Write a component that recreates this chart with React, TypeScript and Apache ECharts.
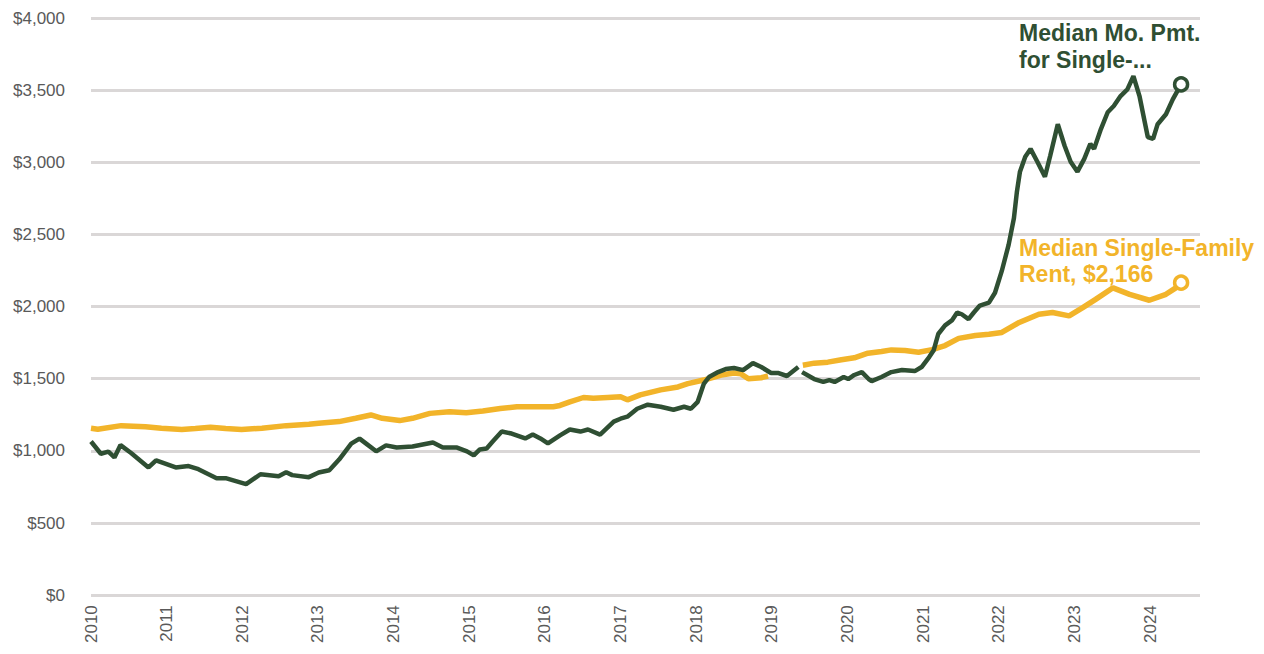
import React, { useEffect, useRef } from "react";
import * as echarts from "echarts";

// [year, monthly payment $] — median monthly payment for single-family home
const paymentSeries: (number | null)[][] = [
  [2010.0, 1065], [2010.13, 980], [2010.23, 995], [2010.31, 955], [2010.39, 1040],
  [2010.53, 985], [2010.76, 885], [2010.86, 935], [2011.12, 885], [2011.29, 895],
  [2011.42, 873], [2011.66, 811], [2011.78, 811], [2012.05, 770], [2012.24, 838],
  [2012.48, 825], [2012.58, 852], [2012.66, 832], [2012.88, 818], [2013.01, 850],
  [2013.15, 866], [2013.28, 940], [2013.44, 1050], [2013.55, 1085], [2013.65, 1045],
  [2013.77, 997], [2013.9, 1038], [2014.04, 1024], [2014.25, 1030], [2014.52, 1058],
  [2014.65, 1024], [2014.83, 1024], [2014.97, 997], [2015.06, 969], [2015.14, 1010],
  [2015.23, 1017], [2015.31, 1065], [2015.43, 1134], [2015.56, 1120], [2015.74, 1086],
  [2015.84, 1113], [2015.94, 1086], [2016.04, 1052], [2016.2, 1107], [2016.33, 1148],
  [2016.47, 1134], [2016.57, 1148], [2016.73, 1113], [2016.91, 1203], [2017.0, 1223],
  [2017.09, 1237], [2017.22, 1292], [2017.36, 1320], [2017.53, 1306], [2017.7, 1285],
  [2017.84, 1306], [2017.93, 1292], [2018.02, 1340], [2018.1, 1464], [2018.17, 1512],
  [2018.29, 1546], [2018.39, 1567], [2018.5, 1574], [2018.62, 1560], [2018.75, 1608],
  [2018.86, 1581], [2018.99, 1540], [2019.08, 1540], [2019.2, 1519], [2019.35, 1581],
  [2019.38, null],
  [2019.4, 1546], [2019.56, 1498], [2019.68, 1478], [2019.76, 1491], [2019.83, 1478],
  [2019.95, 1512], [2020.01, 1498], [2020.09, 1526], [2020.19, 1546], [2020.28, 1498],
  [2020.32, 1484], [2020.45, 1512], [2020.58, 1546], [2020.72, 1560], [2020.89, 1553],
  [2020.98, 1581], [2021.08, 1650], [2021.14, 1698], [2021.2, 1810], [2021.29, 1870],
  [2021.38, 1904], [2021.45, 1959], [2021.51, 1947], [2021.6, 1913], [2021.67, 1959],
  [2021.75, 2007], [2021.87, 2027], [2021.95, 2096], [2022.04, 2247], [2022.13, 2428],
  [2022.2, 2612], [2022.24, 2797], [2022.28, 2935], [2022.35, 3038], [2022.42, 3093],
  [2022.51, 3004], [2022.61, 2900], [2022.68, 3045], [2022.78, 3264], [2022.87, 3115],
  [2022.95, 3004], [2023.04, 2935], [2023.13, 3024], [2023.21, 3127], [2023.26, 3093],
  [2023.35, 3230], [2023.44, 3347], [2023.52, 3390], [2023.61, 3459], [2023.7, 3505],
  [2023.78, 3597], [2023.86, 3459], [2023.93, 3278], [2023.97, 3175], [2024.04, 3162],
  [2024.1, 3264], [2024.21, 3333], [2024.3, 3436], [2024.41, 3540],
];

// [year, rent $] — median single-family rent
const rentSeries: (number | null)[][] = [
  [2010.0, 1157], [2010.09, 1150], [2010.4, 1175], [2010.72, 1168], [2010.93, 1157],
  [2011.2, 1148], [2011.38, 1155], [2011.58, 1164], [2011.78, 1155], [2011.99, 1148],
  [2012.26, 1157], [2012.58, 1175], [2012.88, 1185], [2013.01, 1191], [2013.28, 1203],
  [2013.5, 1226], [2013.7, 1249], [2013.85, 1226], [2014.08, 1210], [2014.25, 1226],
  [2014.48, 1260], [2014.74, 1272], [2014.96, 1265], [2015.18, 1276], [2015.41, 1294],
  [2015.63, 1306], [2015.84, 1306], [2016.11, 1306], [2016.2, 1315], [2016.33, 1340],
  [2016.51, 1370], [2016.64, 1364], [2016.83, 1370], [2017.0, 1375], [2017.09, 1354],
  [2017.26, 1388], [2017.53, 1423], [2017.76, 1443], [2017.89, 1466], [2018.1, 1491],
  [2018.33, 1526], [2018.5, 1540], [2018.59, 1535], [2018.69, 1500], [2018.86, 1507],
  [2018.95, 1519],
  [2019.2, null],
  [2019.41, 1594], [2019.56, 1608], [2019.74, 1615], [2019.92, 1631], [2020.09, 1645],
  [2020.27, 1677], [2020.45, 1689], [2020.58, 1700], [2020.76, 1696], [2020.94, 1684],
  [2021.12, 1702], [2021.29, 1730], [2021.47, 1780], [2021.69, 1800], [2021.87, 1808],
  [2022.04, 1821], [2022.27, 1890], [2022.53, 1947], [2022.71, 1959], [2022.93, 1936],
  [2023.11, 1993], [2023.28, 2050], [2023.51, 2130], [2023.73, 2085], [2023.99, 2044],
  [2024.21, 2085], [2024.34, 2130], [2024.41, 2166],
];

const paymentLabel = ["Median Mo. Pmt.", "for Single-..."];
const rentLabel = ["Median Single-Family", "Rent, $2,166"];

const GREEN = "#2f4f33";
const GOLD = "#f2b42a";

export default function App() {
  const ref = useRef<HTMLDivElement>(null);
  useEffect(() => {
    if (!ref.current) return;
    const chart = echarts.init(ref.current, undefined, { renderer: "svg" });
    const lastPay = paymentSeries[paymentSeries.length - 1];
    const lastRent = rentSeries[rentSeries.length - 1];
    chart.setOption({
      animation: false,
      backgroundColor: "#ffffff",
      grid: { left: 83, right: 56, top: 10, bottom: 45, containLabel: false },
      xAxis: {
        type: "value",
        min: 2010,
        max: 2024.66,
        interval: 1,
        axisLine: { show: false },
        axisTick: { show: false },
        splitLine: { show: false },
        axisLabel: {
          rotate: 90,
          margin: 10,
          color: "#595959",
          fontSize: 17,
          fontFamily: "Liberation Sans, Arial, sans-serif",
          formatter: (v: number) => (v <= 2024 ? String(v) : ""),
        },
      },
      yAxis: {
        type: "value",
        min: 0,
        max: 4000,
        interval: 500,
        axisLine: { show: false },
        axisTick: { show: false },
        splitLine: { lineStyle: { color: "#dad7d7", width: 3 } },
        axisLabel: {
          margin: 26,
          color: "#595959",
          fontSize: 17,
          fontFamily: "Liberation Sans, Arial, sans-serif",
          formatter: (v: number) => "$" + v.toLocaleString("en-US"),
        },
      },
      series: [
        {
          type: "line",
          name: "Median Single-Family Rent",
          data: rentSeries,
          showSymbol: false,
          connectNulls: false,
          lineStyle: { color: GOLD, width: 5.5 },
          z: 2,
        },
        {
          type: "line",
          name: "Median Mo. Pmt. for Single-Family",
          data: paymentSeries,
          showSymbol: false,
          connectNulls: false,
          lineStyle: { color: GREEN, width: 4.5 },
          z: 3,
        },
        {
          type: "scatter",
          data: [
            { value: lastRent, itemStyle: { borderColor: GOLD } },
            { value: lastPay, itemStyle: { borderColor: GREEN } },
          ],
          symbol: "circle",
          symbolSize: 13,
          itemStyle: { color: "#ffffff", borderWidth: 3.5, opacity: 1 },
          z: 4,
        },
      ],
      graphic: [
        {
          type: "text",
          left: 1011,
          top: 11,
          style: {
            text: paymentLabel.join("\n"),
            fill: GREEN,
            font: "bold 23px 'Liberation Sans', Arial, sans-serif",
            lineHeight: 27,
          },
          z: 10,
        },
        {
          type: "text",
          left: 1011,
          top: 227,
          style: {
            text: rentLabel.join("\n"),
            fill: GOLD,
            font: "bold 23px 'Liberation Sans', Arial, sans-serif",
            lineHeight: 26,
          },
          z: 10,
        },
      ],
    });
    return () => chart.dispose();
  }, []);
  return <div ref={ref} style={{ width: 1248, height: 638 }} />;
}
